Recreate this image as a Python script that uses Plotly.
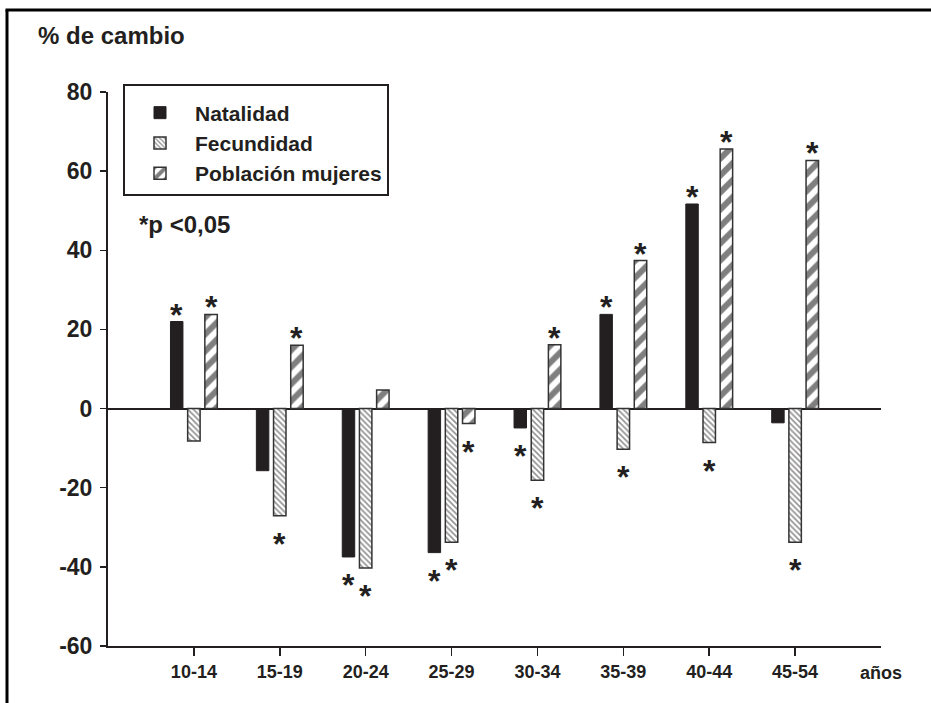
import plotly.graph_objects as go

# ---------------- data ----------------
categories = ["10-14", "15-19", "20-24", "25-29", "30-34", "35-39", "40-44", "45-54"]
natalidad = [22.0, -15.7, -37.5, -36.4, -4.9, 23.8, 51.7, -3.6]
fecundidad = [-8.2, -27.1, -40.3, -33.8, -18.1, -10.3, -8.6, -33.8]
poblacion = [23.8, 16.0, 4.7, -3.8, 16.1, 37.4, 65.6, 62.7]
sig_natalidad = [1, 0, 1, 1, 1, 1, 1, 0]
sig_fecundidad = [0, 1, 1, 1, 1, 1, 1, 1]
sig_poblacion = [1, 1, 0, 1, 1, 1, 1, 1]
y_ticks = [-60, -40, -20, 0, 20, 40, 60, 80]
y_ticktext = ["-60", "-40", "-20", "0", "20", "40", "60", "80"]

# ---------------- layout geometry ----------------
W, H = 931, 703
ML, MR, MT, MB = 108, 50, 92, 57
PW, PH = W - ML - MR, H - MT - MB

def px_x(px):
    return (px - ML) / PW

def px_y(py):
    return (H - MB - py) / PH

INK = "#231f20"
FONT = "Liberation Sans, Arial, sans-serif"
xs = list(range(len(categories)))
BW = 0.145
series = [
    ("Natalidad", natalidad, sig_natalidad, -0.2,
     dict(color=INK, line=dict(color=INK, width=1))),
    ("Fecundidad", fecundidad, sig_fecundidad, 0.0,
     dict(color="white", line=dict(color="#333333", width=1.5),
          pattern=dict(shape="\\", size=4, solidity=0.4, fgcolor=INK, bgcolor="white"))),
    ("Población mujeres", poblacion, sig_poblacion, 0.2,
     dict(color="white", line=dict(color="#333333", width=1.5),
          pattern=dict(shape="/", size=12, solidity=0.5, fgcolor="black", bgcolor="white"))),
]

fig = go.Figure()
annotations = []
for name, vals, sig, off, marker in series:
    fig.add_trace(go.Bar(
        x=xs, y=vals, name=name, width=BW, offset=off - BW / 2,
        marker=marker, hoverinfo="skip",
    ))
    for i, (v, s) in enumerate(zip(vals, sig)):
        if s:
            annotations.append(dict(
                x=i + off, y=v, xref="x", yref="y", text="*", showarrow=False,
                yanchor="middle", yshift=7 if v > 0 else -28,
                font=dict(family=FONT, size=32, color=INK, weight="bold"),
            ))

annotations += [
    dict(x=px_x(36), y=px_y(35), xref="paper", yref="paper", text="% de cambio",
         showarrow=False, xanchor="left", yanchor="middle",
         font=dict(family=FONT, size=24, color=INK, weight="bold")),
    dict(x=px_x(137), y=px_y(225), xref="paper", yref="paper", text="*p <0,05",
         showarrow=False, xanchor="left", yanchor="middle",
         font=dict(family=FONT, size=24, color=INK, weight="bold")),
    dict(x=len(categories), y=px_y(673), xref="x", yref="paper", text="años",
         showarrow=False, xanchor="center", yanchor="middle",
         font=dict(family=FONT, size=18, color=INK, weight="bold")),
]

shapes = [
    dict(type="line", xref="paper", yref="paper", x0=px_x(7), y0=px_y(H + 5),
         x1=px_x(7), y1=px_y(10), line=dict(color="black", width=3)),
    dict(type="line", xref="paper", yref="paper", x0=px_x(5.5), y0=px_y(10),
         x1=px_x(W + 5), y1=px_y(10), line=dict(color="black", width=3)),
]

fig.update_layout(
    width=W, height=H,
    margin=dict(l=ML, r=MR, t=MT, b=MB, pad=0),
    paper_bgcolor="white", plot_bgcolor="white",
    barmode="overlay",
    showlegend=True,
    legend=dict(
        x=px_x(123), y=px_y(84), xanchor="left", yanchor="top",
        bgcolor="white", bordercolor=INK, borderwidth=2,
        font=dict(family=FONT, size=21, color=INK, weight="bold"),
        itemwidth=60,
        title=dict(text=" ", font=dict(size=5)),
        itemclick=False, itemdoubleclick=False,
    ),
    annotations=annotations,
    shapes=shapes,
    font=dict(family=FONT, color=INK),
)
fig.update_xaxes(
    range=[-1, len(categories)], tickvals=xs, ticktext=categories,
    showline=True, linecolor=INK, linewidth=2, ticks="outside", ticklen=8,
    tickwidth=1.5, tickcolor=INK, showgrid=False, zeroline=False,
    tickfont=dict(family=FONT, size=18, color=INK, weight="bold"), fixedrange=True,
)
fig.update_yaxes(
    range=[-60, 80], tickvals=y_ticks, ticktext=y_ticktext,
    showline=True, linecolor=INK, linewidth=2,
    ticks="outside", ticklen=6, tickwidth=1.5, tickcolor=INK, showgrid=False,
    zeroline=True, zerolinecolor=INK, zerolinewidth=2, ticklabelstandoff=3,
    tickfont=dict(family=FONT, size=23, color=INK, weight="bold"), fixedrange=True,
)

fig.write_html(
    "out.html",
    config={"displayModeBar": False, "staticPlot": True},
    post_script="document.body.style.margin='0px';document.body.style.overflow='hidden';",
)
